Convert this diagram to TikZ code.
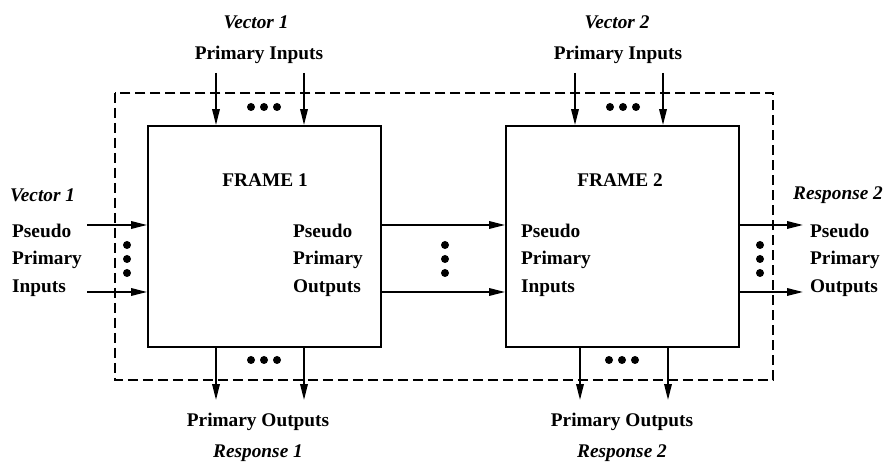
\documentclass[tikz,border=0pt]{standalone}
\usepackage{fontspec}
\setmainfont{Liberation Serif}
\usetikzlibrary{arrows.meta,positioning,calc}
\tikzset{
  frame/.style={rectangle,draw,line width=1.1pt,minimum width=4.66cm,minimum height=4.42cm,inner sep=0pt},
  sig/.style={-{Triangle[length=3.2mm,width=1.5mm]},line width=1pt},
  lbl/.style={font=\fontsize{11}{15.6}\selectfont\bfseries,inner sep=1pt,align=left},
  vec/.style={font=\fontsize{11}{13}\selectfont\bfseries\itshape,inner sep=1pt},
  dot/.style={circle,fill,inner sep=0pt,minimum size=1.6mm},
  envelope/.style={line width=0.8pt,dash pattern=on 2mm off 1mm},
}
\begin{document}
\begin{tikzpicture}[x=0.02cm,y=-0.02cm]
\useasboundingbox (0,0) rectangle (886,465);
% the two time frames
\node[frame] (f1) at (264.5,236.5) {};
\node[frame] (f2) at (622.5,236.5) {};
\node[lbl] (t1) at (265,180) {FRAME 1};
\node[lbl] (t2) at (620,180) {FRAME 2};
\node[lbl,anchor=west] (ppo1) at (291,260) {Pseudo\\Primary\\Outputs};
\node[lbl,anchor=west] (ppi2) at (519,260) {Pseudo\\Primary\\Inputs};
% unrolled boundary
\draw[envelope] (115,93) rectangle (773,380);
% top labels
\node[lbl] (pi1) at (259,55) {Primary Inputs};
\node[vec] (v1) at (256,22) {Vector 1};
\node[lbl] (pi2) at (618,55) {Primary Inputs};
\node[vec] (v2) at (617,22) {Vector 2};
% bottom labels
\node[lbl] (po1) at (258,422) {Primary Outputs};
\node[vec] (r1) at (258,453) {Response 1};
\node[lbl] (po2) at (622,422) {Primary Outputs};
\node[vec] (r2) at (622,453) {Response 2};
% side labels
\node[vec,anchor=west] (v1l) at (8,195) {Vector 1};
\node[lbl,anchor=west] (ppi1) at (10,260) {Pseudo\\Primary\\Inputs};
\node[vec,anchor=east] (r2r) at (885,195) {Response 2};
\node[lbl,anchor=west] (ppo2) at (808,260) {Pseudo\\Primary\\Outputs};
% arrow ends
\coordinate (in1a) at (216,73);  \coordinate (in1b) at (304,73);
\coordinate (in2a) at (575,73);  \coordinate (in2b) at (663,73);
\coordinate (out1a) at (216,400); \coordinate (out1b) at (304,400);
\coordinate (out2a) at (580,400); \coordinate (out2b) at (668,400);
\coordinate (lin1) at (87,225);  \coordinate (lin2) at (87,292);
\coordinate (rout1) at (803,225); \coordinate (rout2) at (803,292);
\coordinate (mid1) at (f1.east |- lin1);
\coordinate (mid2) at (f1.east |- lin2);
% signals
\foreach \c in {in1a,in1b} \draw[sig] (\c) -- (\c |- f1.north);
\foreach \c in {in2a,in2b} \draw[sig] (\c) -- (\c |- f2.north);
\foreach \c in {out1a,out1b} \draw[sig] (\c |- f1.south) -- (\c);
\foreach \c in {out2a,out2b} \draw[sig] (\c |- f2.south) -- (\c);
\foreach \c in {lin1,lin2} \draw[sig] (\c) -- (\c -| f1.west);
\foreach \c in {mid1,mid2} \draw[sig] (\c) -- (\c -| f2.west);
\foreach \c in {rout1,rout2} \draw[sig] (\c -| f2.east) -- (\c);
% ellipsis dots
\foreach \x in {-13,0,13} {
  \node[dot] at (264+\x,107) {};
  \node[dot] at (264+\x,360) {};
  \node[dot] at (623+\x,107) {};
  \node[dot] at (622+\x,360) {};
}
\foreach \y in {245,259,273} {
  \node[dot] at (127,\y) {};
  \node[dot] at (445,\y) {};
  \node[dot] at (760,\y) {};
}
\end{tikzpicture}
\end{document}
